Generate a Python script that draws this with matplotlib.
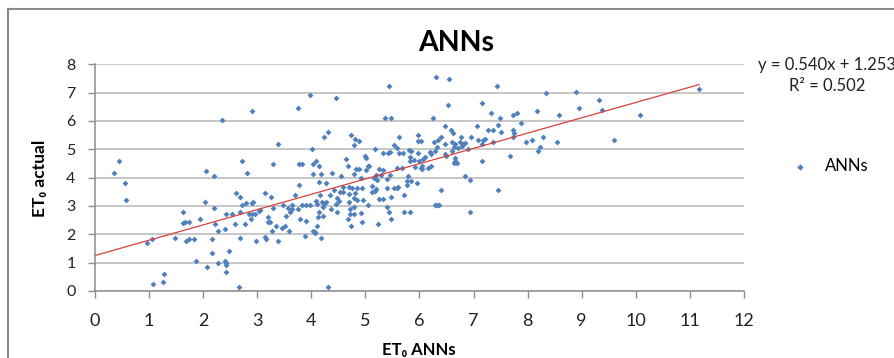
import numpy as np
import matplotlib
matplotlib.use('Agg')
import matplotlib.pyplot as plt
from matplotlib.lines import Line2D

plt.rcParams['font.family'] = ['Lato', 'DejaVu Sans']

# ET0 predicted by the network (x) against measured ET0 (y), mm/day
et0_ann = [
    0.35, 0.44, 0.55, 0.57, 0.96, 1.05, 1.08, 1.26, 1.28, 1.47,
    1.62, 1.62, 1.66, 1.73, 1.68, 1.73, 1.83, 1.87, 1.95, 2.04,
    2.05, 2.08, 2.16, 2.16, 2.20, 2.20, 2.22, 2.28, 2.27, 2.40,
    2.43, 2.42, 2.43, 2.47, 2.41, 2.42, 2.35,
    2.53, 2.59, 2.60, 2.66, 2.68, 2.69, 2.69, 2.71, 2.72, 2.78,
    2.79, 2.81, 2.84, 2.88, 2.90, 2.90, 2.90, 2.92, 2.95, 2.98,
    3.04, 3.06, 3.15, 3.15, 3.17, 3.20, 3.20, 3.24, 3.25, 3.28,
    3.30, 3.30, 3.34, 3.39, 3.39, 3.46, 3.48, 3.51, 3.53, 3.56,
    3.59, 3.60, 3.64, 3.65, 3.70, 3.75, 3.76, 3.77, 3.78, 3.79,
    3.83, 3.83, 3.88, 3.90, 3.90, 3.98, 3.98, 4.02, 4.04, 4.04,
    4.06,
    4.08, 4.15, 4.17, 4.14, 4.28, 4.31, 4.24, 4.46, 4.39, 4.55,
    4.65, 4.73, 4.81, 4.89, 4.79, 5.00, 5.02, 5.05, 5.01, 5.18,
    5.32, 5.41, 5.45, 5.52, 5.59, 5.63, 4.67, 4.83, 4.88, 4.78,
    4.91, 5.07, 5.25, 5.32, 5.20, 5.15, 5.21, 5.28, 5.40, 5.45,
    5.53, 5.59, 5.13, 5.18, 5.12, 5.20, 5.40, 4.59, 4.53, 4.59,
    4.70, 4.76, 4.84, 4.94, 4.42, 4.35, 4.47, 4.52, 4.69, 4.80,
    4.79, 4.70, 4.84, 4.96, 5.25, 5.33, 5.47, 5.40, 5.43, 5.05,
    4.16, 4.08, 4.10, 4.20, 4.24, 4.27, 4.22, 4.15, 4.21, 4.13,
    4.37, 4.47, 4.45, 4.72, 4.79, 4.72, 4.92, 4.79, 4.67, 4.93,
    4.74, 5.23, 5.48, 4.10, 4.04, 4.07, 4.18, 4.30, 5.43, 5.37,
    5.47,
    6.31, 6.55, 6.52, 7.16, 6.25, 6.47, 6.59, 6.62, 7.07, 5.98,
    5.98, 6.03, 6.40, 6.35, 6.27, 6.33, 6.48, 6.61, 6.66, 6.74,
    6.76, 6.79, 6.72, 6.84, 6.96, 7.09, 7.17, 6.90, 7.16, 5.62,
    5.70, 5.81, 5.85, 5.82, 5.82, 5.98, 5.99, 6.07, 6.19, 6.22,
    6.29, 6.61, 6.49, 6.66, 6.66, 6.69, 6.63, 5.58, 5.68, 5.91,
    6.04, 6.02, 6.05, 6.16, 6.21, 5.79, 5.76, 5.85, 5.95, 5.60,
    5.72, 5.77, 6.85, 6.93, 6.40, 5.71, 5.82, 6.29, 6.33, 6.36,
    6.93, 6.47, 6.63, 6.81, 5.89, 6.11,
    7.43, 8.34, 7.32, 7.48, 7.72, 7.80, 7.87, 8.17, 8.58, 7.45,
    7.27, 7.36, 7.50, 7.35, 7.73, 7.75, 7.73, 7.96, 8.08, 8.28,
    8.22, 8.20, 8.54, 7.22, 7.15, 7.67, 7.45, 8.89, 8.94, 9.32,
    9.37, 10.08, 9.60, 11.17,
]
et0_actual = [
    4.15, 4.59, 3.81, 3.22, 1.70, 1.83, 0.24, 0.33, 0.59, 1.86,
    2.79, 2.39, 2.43, 2.44, 1.77, 1.83, 1.84, 1.06, 2.54, 3.13,
    4.24, 0.85, 1.33, 1.84, 4.07, 2.94, 2.37, 2.11, 0.99, 1.06,
    0.98, 0.92, 0.67, 1.42, 2.20, 2.71, 6.02,
    2.71, 2.37, 3.47, 0.15, 1.86, 3.32, 2.79, 4.59, 3.02, 2.37,
    3.12, 4.15, 2.71, 2.54, 3.09, 2.71, 6.36, 3.13, 2.71, 1.76,
    2.83, 2.87, 3.47, 1.90, 1.83, 2.60, 2.44, 2.44, 3.31, 2.12,
    4.49, 2.94, 2.30, 5.17, 1.76, 2.21, 3.04, 2.29, 2.66, 2.94,
    2.11, 2.80, 3.02, 2.89, 3.39, 2.89, 6.47, 4.49, 3.73, 2.55,
    4.49, 3.02, 1.95, 3.02, 2.46, 3.02, 6.91, 5.00, 4.49, 4.14,
    2.07,
    4.60, 4.41, 4.14, 3.86, 3.81, 5.61, 5.43, 6.82, 4.15, 4.07,
    4.67, 5.51, 5.35, 5.28, 5.16, 4.76, 4.68, 4.40, 4.28, 5.00,
    4.86, 4.88, 4.90, 5.16, 5.03, 5.42, 4.40, 4.30, 4.31, 4.14,
    3.99, 4.40, 4.30, 4.27, 4.10, 4.00, 3.92, 4.08, 3.96, 4.08,
    3.64, 3.62, 3.70, 3.54, 3.49, 3.61, 3.62, 3.68, 3.48, 3.48,
    3.67, 3.63, 3.64, 3.63, 3.56, 3.39, 3.29, 3.17, 3.41, 3.45,
    3.29, 3.15, 3.21, 3.21, 3.23, 3.23, 3.33, 2.97, 2.79, 3.02,
    3.39, 3.16, 3.06, 3.15, 3.06, 3.14, 2.95, 2.78, 2.65, 2.62,
    2.89, 2.80, 3.07, 2.88, 2.72, 2.72, 2.74, 2.96, 2.53, 2.44,
    2.28, 2.37, 2.53, 2.29, 2.11, 2.03, 1.86, 0.15, 7.22, 6.11,
    6.11,
    7.56, 7.47, 6.57, 6.64, 6.11, 5.84, 5.68, 5.58, 5.84, 5.50,
    5.28, 5.28, 5.42, 5.33, 5.27, 5.09, 5.17, 5.27, 5.19, 5.27,
    5.42, 5.11, 5.05, 5.22, 5.42, 5.33, 5.33, 5.02, 4.60, 4.86,
    4.86, 4.97, 4.94, 4.72, 4.60, 4.86, 4.59, 4.67, 4.90, 4.82,
    4.94, 4.95, 4.77, 4.70, 4.59, 4.50, 4.53, 4.33, 4.33, 4.36,
    4.41, 4.33, 4.30, 4.33, 4.41, 4.06, 3.89, 3.89, 3.81, 3.67,
    3.39, 3.73, 4.07, 3.91, 3.56, 2.79, 2.79, 3.02, 3.02, 3.02,
    2.79, 4.83, 5.09, 5.19, 4.62, 4.72,
    7.22, 6.97, 6.29, 6.10, 6.20, 6.27, 5.94, 6.36, 6.20, 5.86,
    5.68, 5.68, 5.61, 5.26, 5.68, 5.56, 5.45, 5.26, 5.33, 5.42,
    5.09, 4.93, 5.27, 5.35, 5.17, 4.76, 3.56, 7.04, 6.47, 6.73,
    6.37, 6.20, 5.34, 7.12,
]

# linear trendline as reported on the chart
slope = 0.540
intercept = 1.253
r_squared = 0.502

x_ticks = list(range(0, 13))
y_ticks = list(range(0, 9))

fig = plt.figure(figsize=(8.95, 3.58), dpi=100)
ax = fig.add_axes([95 / 895, 1 - 291 / 358, (744 - 95) / 895, (291 - 64.3) / 358])

ax.scatter(et0_ann, et0_actual, marker='D', s=9, color='#4f81bd',
           linewidths=0, label='ANNs', zorder=3)

x_fit = np.array([0, max(et0_ann)])
ax.plot(x_fit, slope * x_fit + intercept, color='#d9413d', lw=0.9, zorder=4)

ax.set_xlim(0, 12)
ax.set_ylim(0, 8)
ax.set_xticks(x_ticks)
ax.set_yticks(y_ticks)
ax.yaxis.grid(True, color='#b8b8b8', lw=1.1)
ax.set_axisbelow(True)

for side in ['top', 'right']:
    ax.spines[side].set_visible(False)
for side in ['left', 'bottom']:
    ax.spines[side].set_color('#8c8c8c')
    ax.spines[side].set_linewidth(1.1)

ax.tick_params(axis='x', length=5, width=1, color='#8c8c8c', pad=11,
               labelsize=13, labelcolor='#222222')
ax.tick_params(axis='y', length=5, width=1, color='#8c8c8c', pad=9,
               labelsize=11.5, labelcolor='#222222')

# title and axis captions
fig.text(456 / 895, 1 - 43 / 358, 'ANNs', ha='center', va='center',
         fontsize=20.5, fontweight='bold')
fig.text(40 / 895, 1 - 178 / 358, 'ET\u2080 actual', rotation=90,
         ha='center', va='center', fontsize=12.5, fontweight='bold')
fig.text(419 / 895, 1 - 350 / 358, 'ET\u2080 ANNs', ha='center',
         va='center', fontsize=12, fontweight='bold')

# trendline equation
fig.text(758 / 895, 1 - 65 / 358,
         'y = %.3fx + %.3f' % (slope, intercept),
         ha='left', va='center', fontsize=12, color='#222222')
fig.text(827 / 895, 1 - 86 / 358, 'R\u00b2 = %.3f' % r_squared,
         ha='center', va='center', fontsize=12, color='#222222')

fig.legend(loc='center left', bbox_to_anchor=(768 / 895, 1 - 166 / 358),
           frameon=False, fontsize=12, markerscale=1.1, handletextpad=0.5)

# chart area border
fig.add_artist(Line2D([8 / 895, 1], [1 - 9 / 358, 1 - 9 / 358],
                      transform=fig.transFigure, color='#8a8a8a', lw=1.5))
fig.add_artist(Line2D([8 / 895, 8 / 895], [0, 1 - 9 / 358],
                      transform=fig.transFigure, color='#8a8a8a', lw=1.5))

fig.savefig('out.png', dpi=100)
